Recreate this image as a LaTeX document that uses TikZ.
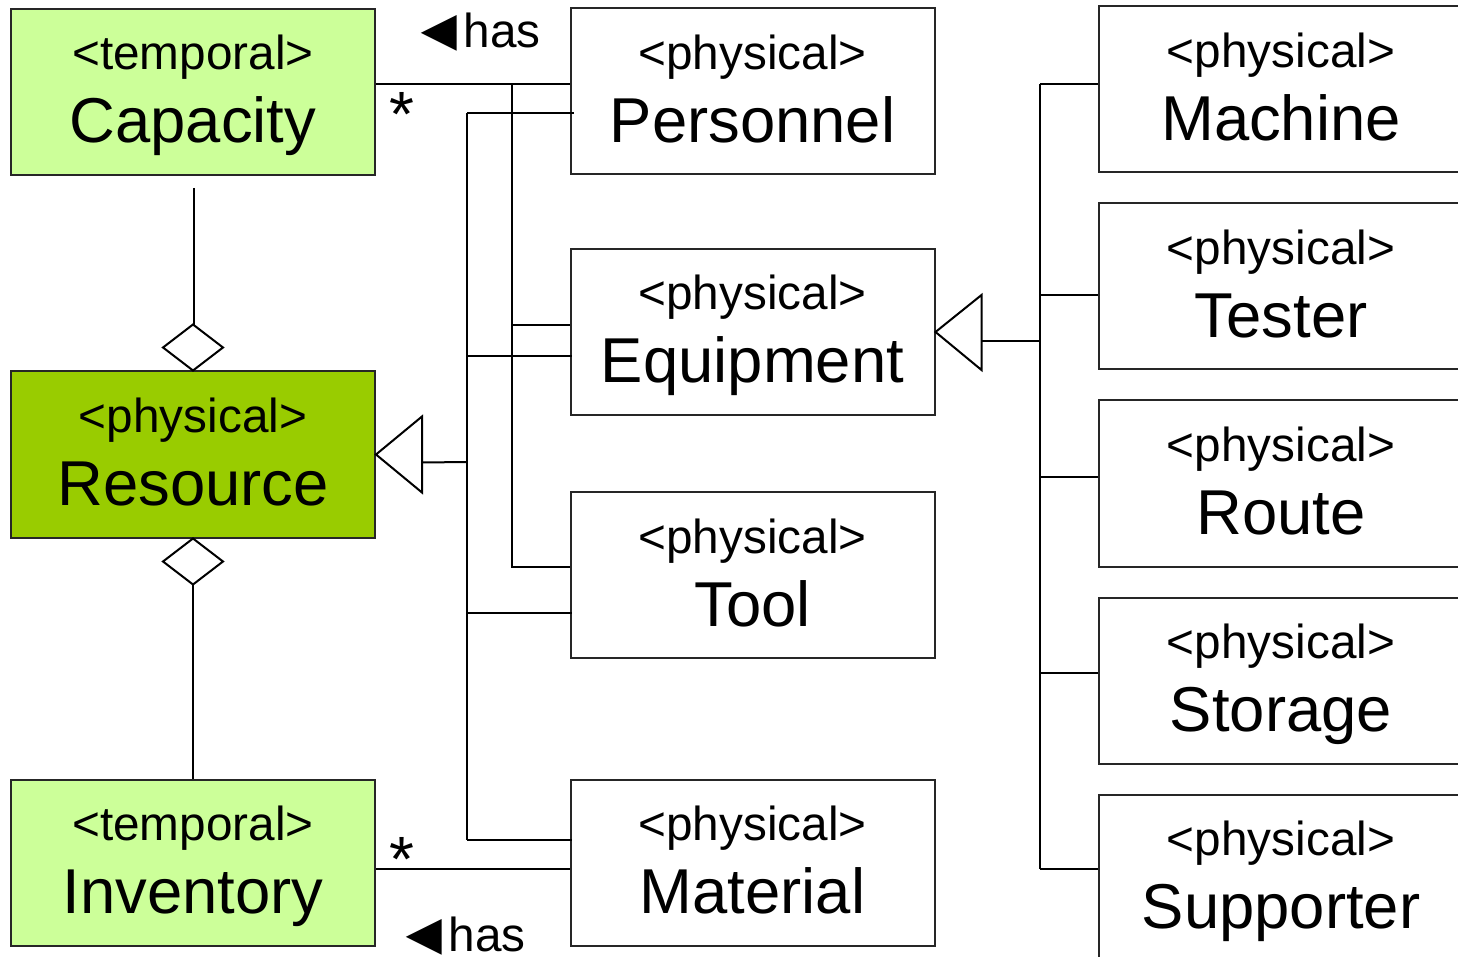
\documentclass[tikz,border=0pt]{standalone}
\usepackage{fontspec}
\setmainfont{Liberation Sans}
\definecolor{lightgreen}{HTML}{CCFF99}
\definecolor{darkgreen}{HTML}{99CC00}
\newcommand\umlbox[6]{%
  \node[umlbox, fill=#4] (#1) at (#2,#3) {};
  \node[stereo, anchor=base] (#1-s) at (#2,#3-22) {#5};
  \node[title, anchor=base] (#1-t) at (#2,#3+51) {#6};
}
\newcommand\hasarrow{{\fontsize{30}{34}\selectfont\raisebox{-1.5pt}{◄}}\kern-2.5pt has}
\begin{document}
\begin{tikzpicture}[x=0.5pt,y=-0.5pt,
  umlbox/.style={draw=black!85, line width=1pt, minimum width=182pt, minimum height=83pt, inner sep=0pt},
  stereo/.style={font=\fontsize{23.85}{28}\selectfont, inner sep=0pt},
  title/.style={font=\fontsize{31.7}{38}\selectfont, inner sep=0pt},
  lbl/.style={font=\fontsize{23.85}{28}\selectfont, inner sep=0pt},
  star/.style={font=\fontsize{32}{36}\selectfont, inner sep=0pt},
  conn/.style={draw=black, line width=1pt}
]
\useasboundingbox (0,0) rectangle (1458,957);
\clip (0,0) rectangle (1458,957);
\fill[white] (0,0) rectangle (1458,957);

% left column
\umlbox{cap}{193}{92}{lightgreen}{<temporal>}{Capacity}
\umlbox{res}{193}{454.5}{darkgreen}{<physical>}{Resource}
\umlbox{inv}{193}{862.5}{lightgreen}{<temporal>}{Inventory}
% middle column
\umlbox{pers}{752.5}{91.5}{white}{<physical>}{Personnel}
\umlbox{equip}{752.5}{332}{white}{<physical>}{Equipment}
\umlbox{tool}{752.5}{575}{white}{<physical>}{Tool}
\umlbox{mat}{752.5}{862.5}{white}{<physical>}{Material}
% right column
\umlbox{mach}{1281}{89.5}{white}{<physical>}{Machine}
\umlbox{test}{1281}{286.5}{white}{<physical>}{Tester}
\umlbox{route}{1281}{483.5}{white}{<physical>}{Route}
\umlbox{stor}{1281}{680.5}{white}{<physical>}{Storage}
\umlbox{supp}{1281}{877.5}{white}{<physical>}{Supporter}

% junction coordinates
\coordinate (hasA) at (512,84);
\coordinate (hasA2) at (512,325);
\coordinate (hasA3) at (512,567);
\coordinate (genR) at (467,462);
\coordinate (genRtop) at (467,113);
\coordinate (genR2) at (467,356);
\coordinate (genR3) at (467,613);
\coordinate (genRbot) at (467,840);
\coordinate (genE) at (1040,341);
\coordinate (genEtop) at (1040,84);
\coordinate (genE2) at (1040,295);
\coordinate (genE3) at (1040,477);
\coordinate (genE4) at (1040,673);
\coordinate (genEbot) at (1040,869);
\coordinate (invl) at (375,869);
\coordinate (capdown) at (194,188);

% Capacity has Personnel/Equipment/Tool
\draw[conn] (cap.east |- hasA) -- (pers.west |- hasA);
\draw[conn] (hasA) -- (hasA3) -- (tool.west |- hasA3);
\draw[conn] (hasA2) -- (equip.west |- hasA2);
\node[lbl, anchor=base west] (hasTop) at (409,48) {\hasarrow};
\node[star, anchor=center] (starTop) at (402,114) {*};

% Inventory has Material
\draw[conn] (inv.east |- invl) -- (mat.west |- invl);
\node[star, anchor=center] (starBot) at (402,859) {*};
\node[lbl, anchor=base west] (hasBot) at (394,951) {\hasarrow};

% generalization to Resource
\draw[conn, fill=white] (res.east) -- ++(46,-38) -- ++(0,76) -- cycle;
\draw[conn] (res.east) ++(46,8) -- (genR);
\draw[conn] (genRtop) -- (genRbot);
\draw[conn] (genRtop) -- ([xshift=2pt]pers.west |- genRtop);
\draw[conn] (genR2) -- ([xshift=1pt]equip.west |- genR2);
\draw[conn] (genR3) -- ([xshift=1pt]tool.west |- genR3);
\draw[conn] (genRbot) -- ([xshift=1pt]mat.west |- genRbot);

% generalization to Equipment
\draw[conn, fill=white] (equip.east) -- ++(46,-37) -- ++(0,75) -- cycle;
\draw[conn] (equip.east) ++(46,9) -- (genE);
\draw[conn] (genEtop) -- (genEbot);
\draw[conn] (genEtop) -- (mach.west |- genEtop);
\draw[conn] (genE2) -- (test.west |- genE2);
\draw[conn] (genE3) -- (route.west |- genE3);
\draw[conn] (genE4) -- (stor.west |- genE4);
\draw[conn] (genEbot) -- (supp.west |- genEbot);

% aggregations
\draw[conn] (capdown) -- (194,325);
\draw[conn, fill=white] (res.north) -- ++(-30,-23) -- ++(30,-23) -- ++(30,23) -- cycle;
\draw[conn, fill=white] (res.south) -- ++(-30,23) -- ++(30,23) -- ++(30,-23) -- cycle;
\draw[conn] ([yshift=-23pt]res.south) -- (inv.north);
\end{tikzpicture}
\end{document}
